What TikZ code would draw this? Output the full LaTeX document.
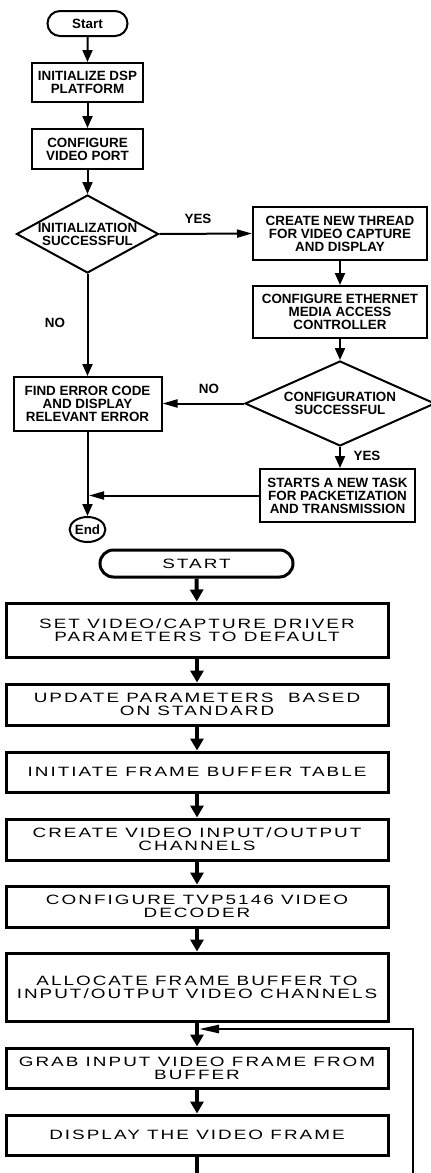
\documentclass[tikz,border=0pt]{standalone}
\usepackage{fontspec}
\setmainfont{Liberation Sans}
\newfontfamily\wideface[FakeStretch=1.4,LetterSpace=15]{Liberation Sans}
\usetikzlibrary{arrows.meta,shapes.geometric,shapes.misc}

\begin{document}
\begin{tikzpicture}[x=1pt,y=-1pt,
  tfont/.style={font=\bfseries\fontsize{13.4}{13}\selectfont},
  tbox/.style={draw,line width=2pt,inner sep=0pt,align=center,tfont},
  tterm/.style={draw,line width=2pt,rounded rectangle,inner sep=0pt,tfont},
  tdia/.style={draw,line width=2pt,diamond,inner sep=0pt},
  tlabel/.style={inner sep=0pt,align=center,tfont},
  tarrow/.style={line width=2pt,-{Triangle[length=12pt,width=10pt]}},
  harrow/.style={line width=2pt,-{Triangle[length=15pt,width=8pt]}},
  bfont/.style={font=\wideface\fontsize{13.5}{12.7}\selectfont},
  bbox/.style={draw,line width=3pt,inner sep=0pt,align=center,bfont,minimum width=382pt},
  bterm/.style={draw,line width=3pt,rounded rectangle,inner sep=0pt,bfont},
  barrow/.style={line width=4pt,-{Triangle[length=12pt,width=13pt]}},
  bline/.style={line width=4pt},
  looparrow/.style={line width=2.5pt,-{Triangle[length=20pt,width=8pt]}}
]
\useasboundingbox (0,0) rectangle (431,1173);

% ---------- upper flowchart ----------
\node[tterm,minimum width=80pt,minimum height=25pt] (s) at (87.5,23.5) {Start};
\node[tbox,minimum width=111pt,minimum height=39pt] (b1) at (87.5,82.5) {INITIALIZE DSP\\PLATFORM};
\node[tbox,minimum width=111pt,minimum height=40pt] (b2) at (87.5,149) {CONFIGURE\\VIDEO PORT};
\node[tdia,minimum width=142pt,minimum height=78pt] (d1) at (87.5,234) {};
\node[tlabel] (d1t) at (d1) {INITIALIZATION\\SUCCESSFUL};
\node[tbox,minimum width=174pt,minimum height=53pt] (b3) at (340,233.5) {CREATE NEW THREAD\\FOR VIDEO CAPTURE\\AND DISPLAY};
\node[tbox,minimum width=174pt,minimum height=52pt] (b4) at (340,312) {CONFIGURE ETHERNET\\MEDIA ACCESS\\CONTROLLER};
\node[tdia,minimum width=190pt,minimum height=85pt] (d2) at (340,403.5) {};
\node[tlabel] (d2t) at (d2) {CONFIGURATION\\SUCCESSFUL};
\node[tbox,minimum width=148pt,minimum height=54pt] (b5) at (87.5,404) {FIND ERROR CODE\\AND DISPLAY\\RELEVANT ERROR};
\node[tbox,minimum width=155pt,minimum height=53pt] (b6) at (337.5,495.5) {STARTS A NEW TASK\\FOR PACKETIZATION\\AND TRANSMISSION};
\node[draw,line width=2pt,ellipse,inner sep=0pt,minimum width=33pt,minimum height=25pt,tfont] (e) at (87.5,529.5) {End};

\node[tlabel] (yes1) at (198,219) {YES};
\node[tlabel] (no1) at (55,323) {NO};
\node[tlabel] (no2) at (209,389) {NO};
\node[tlabel] (yes2) at (367,456) {YES};

\draw[tarrow] (s) -- (b1);
\draw[tarrow] (b1) -- (b2);
\draw[tarrow] (b2) -- (d1);
\draw[harrow] (d1.east) -- (b3.west);
\draw[tarrow] (b3) -- (b4);
\draw[tarrow] (b4) -- (d2);
\draw[tarrow] (d2.south) -- (d2.south |- b6.north);
\draw[harrow] (d2.west) -- (b5.east |- d2.west);
\draw[tarrow] (d1.south) -- (b5.north);
\draw[tarrow] (b5.south) -- (e.north);
\coordinate (j1) at (89,495.5);
\draw[harrow] (b6.west) -- (j1);

% ---------- lower flowchart ----------
\node[bterm,minimum width=193pt,minimum height=27pt] (S) at (196.5,563.5) {START};
\node[bbox,minimum height=54pt] (B1) at (197,630) {SET VIDEO/CAPTURE DRIVER\\PARAMETERS TO DEFAULT};
\node[bbox,minimum height=41pt] (B2) at (197,704.5) {UPDATE PARAMETERS\ \ BASED\\ON STANDARD};
\node[bbox,minimum height=40pt] (B3) at (197,772) {INITIATE FRAME BUFFER TABLE};
\node[bbox,minimum height=41pt] (B4) at (197,839.5) {CREATE VIDEO INPUT/OUTPUT\\CHANNELS};
\node[bbox,minimum height=41pt] (B5) at (197,906.5) {CONFIGURE TVP5146 VIDEO\\DECODER};
\node[bbox,minimum height=68pt] (B6) at (197,987) {ALLOCATE FRAME BUFFER TO\\INPUT/OUTPUT VIDEO CHANNELS};
\node[bbox,minimum height=40pt] (B7) at (197,1068) {GRAB INPUT VIDEO FRAME FROM\\BUFFER};
\node[bbox,minimum height=40pt] (B8) at (197,1135) {DISPLAY THE VIDEO FRAME};

\draw[barrow] (S) -- (B1);
\draw[barrow] (B1) -- (B2);
\draw[barrow] (B2) -- (B3);
\draw[barrow] (B3) -- (B4);
\draw[barrow] (B4) -- (B5);
\draw[barrow] (B5) -- (B6);
\draw[barrow] (B6) -- (B7);
\draw[barrow] (B7) -- (B8);
\coordinate (bot) at (197,1173);
\draw[bline] (B8.south) -- (bot);
\coordinate (lbot) at (413,1173);
\coordinate (lj) at (199,1029);
\draw[looparrow] (lbot) |- (lj);
\end{tikzpicture}
\end{document}
